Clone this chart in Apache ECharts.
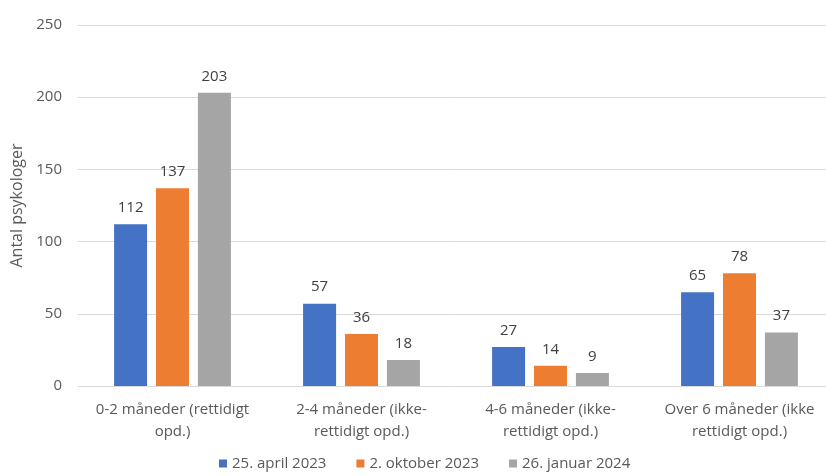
<!DOCTYPE html>
<html>
<head>
<meta charset="utf-8">
<script src="https://cdn.jsdelivr.net/npm/echarts@6/dist/echarts.min.js"></script>
<style>
  html, body { margin: 0; padding: 0; background: #fff; }
  #chart { width: 826px; height: 476px; }
</style>
</head>
<body>
<div id="chart"></div>
<script>
const categories = [
  '0-2 måneder (rettidigt\nopd.)',
  '2-4 måneder (ikke-\nrettidigt opd.)',
  '4-6 måneder (ikke-\nrettidigt opd.)',
  'Over 6 måneder (ikke\nrettidigt opd.)'
];
const seriesNames = ['25. april 2023', '2. oktober 2023', '26. januar 2024'];
const april2023 = [112, 57, 27, 65];
const oktober2023 = [137, 36, 14, 78];
const januar2024 = [203, 18, 9, 37];
const colors = ['#4472C4', '#ED7D31', '#A5A5A5'];
const yTicks = { min: 0, max: 250, interval: 50 };

const font = '"Open Sans", "Noto Sans", sans-serif';
const chart = echarts.init(document.getElementById('chart'));

const makeSeries = (name, data, color) => ({
  name: name,
  type: 'bar',
  data: data,
  barWidth: 33,
  barGap: '27%',
  itemStyle: { color: color },
  label: {
    show: true,
    position: 'top',
    distance: 9,
    color: '#404040',
    fontSize: 15,
    fontFamily: font
  }
});

chart.setOption({
  animation: false,
  textStyle: { fontFamily: font },
  grid: { left: 78, width: 756, top: 25, bottom: 90, outerBoundsMode: 'none' },
  legend: {
    bottom: 0,
    left: 214,
    itemWidth: 8,
    itemHeight: 8,
    itemGap: 30,
    icon: 'rect',
    textStyle: { color: '#595959', fontSize: 15, fontFamily: font },
    data: seriesNames
  },
  xAxis: {
    type: 'category',
    data: categories,
    axisTick: { show: false },
    axisLine: { lineStyle: { color: '#D9D9D9', width: 1 } },
    axisLabel: {
      color: '#595959',
      fontSize: 15,
      lineHeight: 22,
      margin: 13,
      fontFamily: font,
      interval: 0
    }
  },
  yAxis: {
    type: 'value',
    min: yTicks.min,
    max: yTicks.max,
    interval: yTicks.interval,
    name: 'Antal psykologer',
    nameLocation: 'middle',
    nameGap: 53,
    nameRotate: 90,
    nameTextStyle: { color: '#595959', fontSize: 16, fontFamily: font },
    axisLine: { show: false },
    axisTick: { show: false },
    axisLabel: { color: '#595959', fontSize: 15, margin: 16, fontFamily: font },
    splitLine: { lineStyle: { color: '#D9D9D9', width: 1 } }
  },
  series: [
    makeSeries(seriesNames[0], april2023, colors[0]),
    makeSeries(seriesNames[1], oktober2023, colors[1]),
    makeSeries(seriesNames[2], januar2024, colors[2])
  ]
});
</script>
</body>
</html>
